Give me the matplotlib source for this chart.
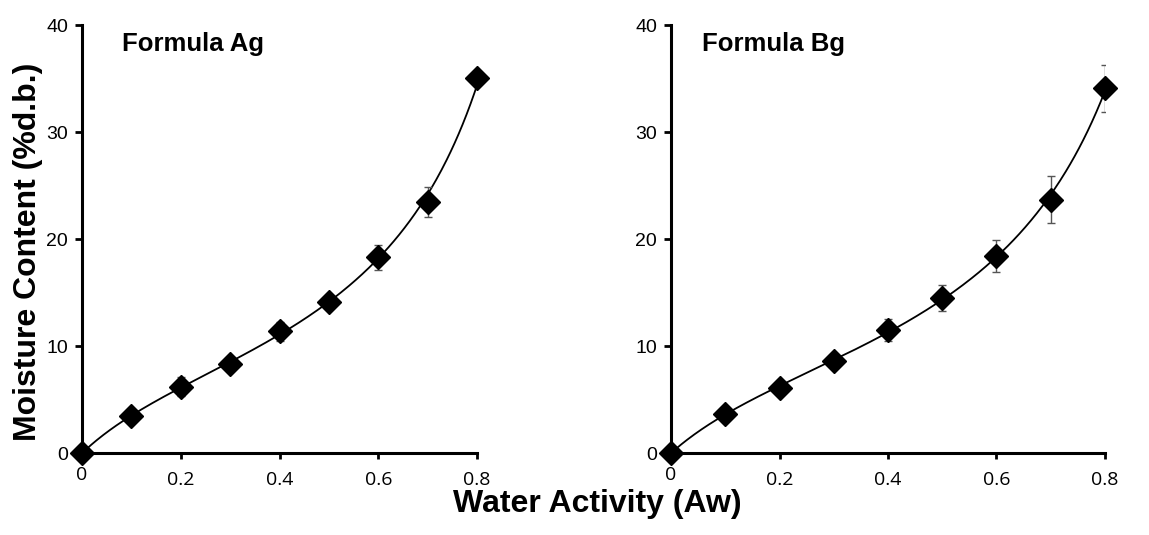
import numpy as np
import matplotlib
matplotlib.use("Agg")
import matplotlib.pyplot as plt
from matplotlib.transforms import ScaledTranslation

# water activity levels and moisture content (% d.b.)
aw = [0.0, 0.1, 0.2, 0.3, 0.4, 0.5, 0.6, 0.7, 0.8]
mc_ag = [0.0, 3.5, 6.2, 8.3, 11.4, 14.1, 18.3, 23.5, 35.1]
err_ag = [0.0, 0.3, 0.9, 0.3, 0.9, 0.3, 1.15, 1.4, 0.3]
mc_bg = [0.0, 3.7, 6.1, 8.6, 11.5, 14.5, 18.4, 23.7, 34.1]
err_bg = [0.0, 0.3, 0.3, 0.5, 1.0, 1.2, 1.5, 2.2, 2.2]

panel_titles = ["Formula Ag", "Formula Bg"]
xticks = [0, 0.2, 0.4, 0.6, 0.8]
xticklabels = ["0", "0.2", "0.4", "0.6", "0.8"]
yticks = [0, 10, 20, 30, 40]


def gab_fit(x, y):
    # GAB isotherm in its quadratic form: aw/M = a*aw^2 + b*aw + c
    x = np.asarray(x)[1:]
    y = np.asarray(y)[1:]
    a, b, c = np.polyfit(x, x / y, 2)
    xs = np.linspace(0.0005, 0.8, 300)
    return np.r_[0, xs], np.r_[0, xs / (a * xs**2 + b * xs + c)]


fig = plt.figure(figsize=(11.49, 5.35), dpi=100)
ax1 = fig.add_axes([0.0714, 0.153, 0.3438, 0.800])
ax2 = fig.add_axes([0.5840, 0.153, 0.3777, 0.800])

panels = [(ax1, mc_ag, err_ag, 0.10), (ax2, mc_bg, err_bg, 0.072)]
for (ax, mc, err, tx), title in zip(panels, panel_titles):
    fx, fy = gab_fit(aw, mc)
    ax.plot(fx, fy, color="black", lw=1.3, zorder=2)
    ax.errorbar(aw, mc, yerr=err, fmt="none", ecolor="#555555",
                elinewidth=1.0, capsize=3, capthick=1.0, zorder=3)
    ax.plot(aw, mc, "D", color="black", markersize=12.5, clip_on=False,
            zorder=4)

    ax.set_xlim(0, 0.8)
    ax.set_ylim(0, 40)
    ax.spines["top"].set_visible(False)
    ax.spines["right"].set_visible(False)
    ax.spines["left"].set_linewidth(2.2)
    ax.spines["bottom"].set_linewidth(2.2)

    ax.set_yticks(yticks)
    ax.set_yticklabels([str(v) for v in yticks], fontfamily="Liberation Sans",
                       fontsize=14)
    ax.set_xticks(xticks)
    ax.set_xticklabels(xticklabels, fontfamily="Open Sans", fontsize=14)
    ax.tick_params(axis="y", direction="out", length=5, width=2, pad=5)
    ax.tick_params(axis="x", direction="out", length=4, width=2, pad=9)
    # the "0" label sits a little higher than the others
    lab0 = ax.get_xticklabels()[0]
    lab0.set_transform(lab0.get_transform()
                       + ScaledTranslation(0, 4 / 72, fig.dpi_scale_trans))

    ax.text(tx, 0.957, title, transform=ax.transAxes, fontsize=18.5,
            fontweight="bold", fontfamily="Liberation Sans", va="center")

fig.text(0.024, 0.53, "Moisture Content (%d.b.)", rotation=90,
         fontsize=23, fontweight="bold", fontfamily="Liberation Sans",
         ha="center", va="center")
fig.text(0.52, 0.058, "Water Activity (Aw)", fontsize=23,
         fontweight="bold", fontfamily="Liberation Sans",
         ha="center", va="center")

fig.savefig("out.png", dpi=100)
